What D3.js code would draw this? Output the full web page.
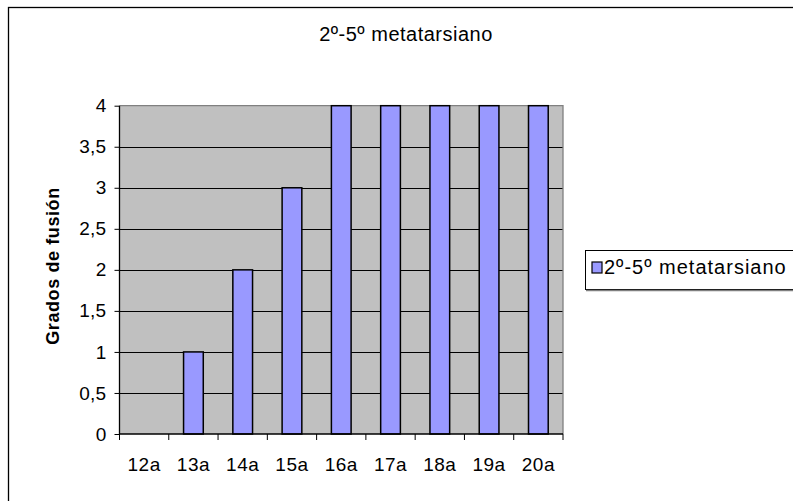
<!DOCTYPE html>
<html><head><meta charset="utf-8">
<script src="https://cdn.jsdelivr.net/npm/d3@7"></script>
<style>
html,body{margin:0;padding:0;background:#fff;}
svg{display:block;font-family:"Liberation Sans",Arial,sans-serif;}
</style></head>
<body><svg id="c" width="793" height="501"></svg>
<script>
const categories = ["12a","13a","14a","15a","16a","17a","18a","19a","20a"];
const values = [0,1,2,3,4,4,4,4,4];
const yTicks = [0,0.5,1,1.5,2,2.5,3,3.5,4];
const seriesName = "2º-5º metatarsiano";
const chartTitle = "2º-5º metatarsiano";
const yTitle = "Grados de fusión";

const svg = d3.select("#c");
const L = 119.5, R = 563, T = 105.7, B = 434;

// outer chart border (clipped by image)
svg.append("rect").attr("x",8.5).attr("y",7.5).attr("width",900).attr("height",700)
  .attr("fill","#fff").attr("stroke","#000").attr("stroke-width",1.3);

const xb = d3.scaleBand().domain(categories).range([L,R]);
const y = d3.scaleLinear().domain([0,4]).range([B,T]);

svg.append("rect").attr("x",L).attr("y",T).attr("width",R-L).attr("height",B-T).attr("fill","#C0C0C0");

// gridlines
svg.append("g").selectAll("line").data(yTicks.filter(d=>d>0 && d<4)).join("line")
  .attr("x1",L).attr("x2",R).attr("y1",d=>Math.round(y(d))+0.5).attr("y2",d=>Math.round(y(d))+0.5)
  .attr("stroke","#000").attr("stroke-width",1);
// plot border top/right gray
svg.append("path").attr("d",`M${L},${T}H${R}V${B}`).attr("fill","none").attr("stroke","#808080").attr("stroke-width",1.3);

// bars
svg.append("g").selectAll("rect").data(values.map((v,i)=>({c:categories[i],v}))).join("rect")
  .filter(d=>d.v>0)
  .attr("x",d=>xb(d.c)+xb.bandwidth()*0.3)
  .attr("width",xb.bandwidth()*0.4)
  .attr("y",d=>y(d.v)).attr("height",d=>B-y(d.v))
  .attr("fill","#9999FF").attr("stroke","#000").attr("stroke-width",1.5);

// y axis
const ya = d3.axisLeft(y).tickValues(yTicks).tickSize(5).tickPadding(8)
  .tickFormat(d=>String(d).replace(".",","));
const gy = svg.append("g").attr("transform",`translate(${L},0)`).call(ya);
gy.select(".domain").attr("stroke","#000").attr("stroke-width",1.3).attr("d",`M0,${T}V${B}`);
gy.selectAll("text").attr("font-size",19).attr("fill","#000").attr("letter-spacing",0.3)
  .attr("font-family","Liberation Sans, Arial, sans-serif");
gy.selectAll(".tick line").attr("stroke","#000");

// x axis with ticks at band boundaries
const gx = svg.append("g").attr("transform",`translate(0,${B})`);
gx.append("line").attr("x1",L).attr("x2",R).attr("y1",0).attr("y2",0).attr("stroke","#000").attr("stroke-width",1.3);
const bounds = categories.map(c=>xb(c)).concat([R]);
gx.selectAll("line.t").data(bounds).join("line").attr("class","t")
  .attr("x1",d=>d).attr("x2",d=>d).attr("y1",0).attr("y2",6).attr("stroke","#000");
gx.selectAll("text").data(categories).join("text")
  .attr("x",d=>xb(d)+xb.bandwidth()/2).attr("y",37)
  .attr("text-anchor","middle").attr("font-size",19).attr("letter-spacing",0.5).text(d=>d);

// title
svg.append("text").attr("x",406).attr("y",41).attr("text-anchor","middle")
  .attr("font-size",20).attr("letter-spacing",0.5).text(chartTitle);

// y title
svg.append("text").attr("transform",`translate(59,266) rotate(-90)`).attr("text-anchor","middle")
  .attr("font-size",18).attr("font-weight","bold").attr("letter-spacing",0.6).text(yTitle);

// legend
const lg = svg.append("g");
lg.append("rect").attr("x",585.5).attr("y",250.5).attr("width",300).attr("height",39)
  .attr("fill","#fff").attr("stroke","#000").attr("stroke-width",1);
lg.append("line").attr("x1",586).attr("x2",900).attr("y1",290.5).attr("y2",290.5).attr("stroke","#808080").attr("stroke-width",1.5);
lg.append("rect").attr("x",592).attr("y",262).attr("width",10).attr("height",11)
  .attr("fill","#9999FF").attr("stroke","#000").attr("stroke-width",1.2);
lg.append("text").attr("x",604).attr("y",274).attr("font-size",20).attr("letter-spacing",1).text(seriesName);
</script></body></html>
